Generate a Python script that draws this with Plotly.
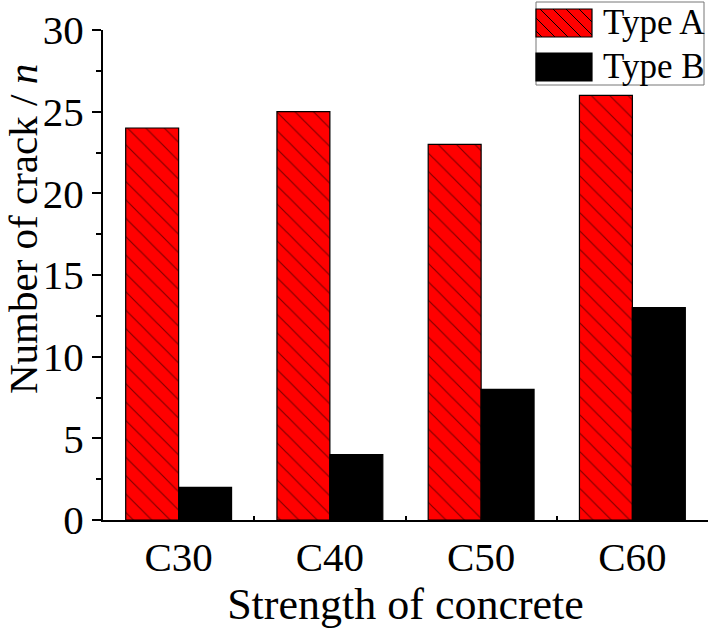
import plotly.graph_objects as go

strengths = ["C30", "C40", "C50", "C60"]
type_a = [24, 25, 23, 26]
type_b = [2, 4, 8, 13]
series_names = ["Type A", "Type B"]

font_name = "Liberation Serif, Times New Roman, serif"
W, H = 711, 632
L, R, T, B = 103, 3, 30, 112


def px(x):
    return (x - L) / (W - L - R)


def py(y):
    return (H - B - y) / (H - T - B)


fig = go.Figure()
fig.add_trace(go.Bar(x=strengths, y=type_a, name=series_names[0],
                     marker=dict(color="#ff0000", line=dict(color="black", width=1.2),
                                 pattern=dict(shape="\\", fgcolor="black", bgcolor="#ff0000",
                                              size=13, solidity=0.09))))
fig.add_trace(go.Bar(x=strengths, y=type_b, name=series_names[1],
                     marker=dict(color="black", line=dict(color="black", width=1.2))))

# legend drawn by hand (box, swatches, hatch) to get the big swatches of the original
shapes = [dict(type="rect", xref="paper", yref="paper", x0=px(536), x1=px(704), y0=py(85), y1=py(2),
               line=dict(color="#777777", width=1), fillcolor="white", layer="above")]
sw_x0, sw_x1 = 536, 592
for (y0, y1), col in zip([(9, 37), (53, 81)], ["#ff0000", "black"]):
    shapes.append(dict(type="rect", xref="paper", yref="paper", x0=px(sw_x0), x1=px(sw_x1),
                       y0=py(y1), y1=py(y0), line=dict(color="black", width=1.2),
                       fillcolor=col, layer="above"))
# hatch lines for the Type A swatch: y - x = c, clipped to the swatch
y0, y1 = 9, 37
for c in range(y0 - sw_x1, y1 - sw_x0, 13):
    xa = max(sw_x0, y0 - c)
    xb = min(sw_x1, y1 - c)
    if xb - xa < 1:
        continue
    shapes.append(dict(type="line", xref="paper", yref="paper", x0=px(xa), y0=py(xa + c),
                       x1=px(xb), y1=py(xb + c), line=dict(color="black", width=1), layer="above"))

annotations = [dict(text=name, xref="paper", yref="paper", x=px(601), y=py(yc),
                    xanchor="left", yanchor="middle", showarrow=False,
                    font=dict(size=35))
               for name, yc in zip(series_names, [22, 66])]
annotations.append(dict(text="Number of crack / <i>n</i>", xref="paper", yref="paper",
                        x=px(23), y=py(229), xanchor="center", yanchor="middle",
                        textangle=-90, showarrow=False, font=dict(size=41)))

fig.update_layout(
    width=W, height=H,
    margin=dict(l=L, r=R, t=T, b=B),
    plot_bgcolor="white", paper_bgcolor="white",
    barmode="group", bargap=0.3, bargroupgap=0,
    font=dict(family=font_name, size=38, color="black"),
    showlegend=False,
    shapes=shapes, annotations=annotations,
)
fig.update_xaxes(
    automargin=False,
    showline=True, linecolor="black", linewidth=2,
    ticks="inside", tickson="boundaries", ticklen=4, tickwidth=1.5, tickcolor="black",
    tickfont=dict(size=41),
    title=dict(text="Strength of concrete", font=dict(size=44), standoff=4),
)
fig.update_yaxes(
    automargin=False,
    range=[0, 30], dtick=5, showgrid=False, zeroline=False,
    showline=True, linecolor="black", linewidth=2,
    ticks="outside", ticklen=9, tickwidth=2, tickcolor="black",
    minor=dict(dtick=2.5, ticks="outside", ticklen=5, tickwidth=2, tickcolor="black"),
    tickfont=dict(size=41),
)

# page body has a default 8px margin, drop it so the figure fills the window
fig.write_html("out.html", config={"displayModeBar": False},
               post_script="document.body.style.margin='0';")
